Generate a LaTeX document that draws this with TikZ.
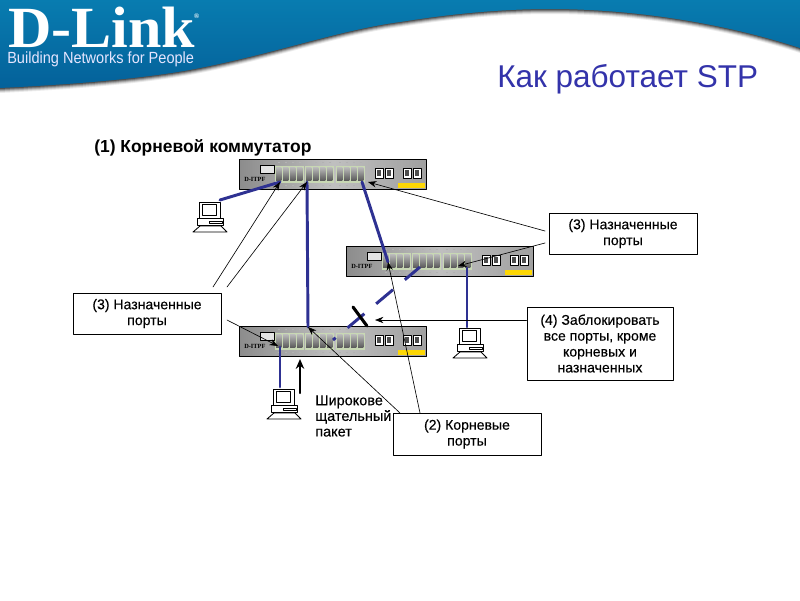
\documentclass[tikz,border=0pt]{standalone}
\usepackage{fontspec}
\setmainfont{Liberation Sans}
\newfontfamily\logofont{Liberation Serif}
\newfontfamily\labelfont[FakeBold=0.25]{Liberation Sans}
\usetikzlibrary{arrows.meta}
\definecolor{linkblue}{HTML}{2E3192}
\definecolor{titleblue}{HTML}{3333AA}
\definecolor{bandtop}{HTML}{087CB0}
\definecolor{bandlow}{HTML}{04619A}
\definecolor{portback}{HTML}{C8D8B4}
\tikzset{
  labelbox/.style={draw=black, line width=0.7pt, fill=white, align=center, font=\labelfont\fontsize{10}{11.3}\selectfont, inner sep=0pt},
  linkline/.style={draw=linkblue, line width=2.1pt},
  pointer/.style={draw=black, line width=0.45pt, -{Stealth[length=6pt,width=4.5pt]}},
  switchbody/.style={draw=black, line width=0.8pt, left color=gray!90, right color=gray!75, middle color=gray!50, minimum width=46.75mm, minimum height=7.5mm, inner sep=0pt, anchor=north west},
  switchbox/.pic={
    \node[switchbody] (body) at (0,0) {};
    % The serial port and the brand mark.
    \draw[fill=gray!20, line width=0.3pt] (21,6) rectangle (35,14);
    \node[font=\logofont\bfseries\fontsize{4.5}{5}\selectfont, text=black, inner sep=0pt, anchor=west] at (5,20) {D-ITPF};
    % Four ports in each of three groups.
    \foreach \gx in {36,66,97} {
      \fill[portback] (\gx,6.5) rectangle (\gx+28.5,23.5);
      \foreach \px in {0,7,14,21} {
        \fill[top color=gray!55, bottom color=black!65] (\gx+\px+1,8.5) rectangle (\gx+\px+6.4,21.5);
        \fill[gray!60] (\gx+\px+3,2.5) rectangle (\gx+\px+4.5,4);
        \fill[gray!60] (\gx+\px+3,25.5) rectangle (\gx+\px+4.5,27);
      }
    }
    % Uplink sockets and the yellow sticker.
    \foreach \px in {136,146,164,174} {
      \draw[fill=white, line width=0.5pt] (\px,9) rectangle (\px+8,19);
      \fill[black!70] (\px+2,11) rectangle (\px+6,17);
    }
    \fill[yellow!75!orange] (159,24) rectangle (186,29);
  },
  pcbox/.pic={
    \draw[line width=0.6pt, fill=white] (6,2) rectangle (27,18);
    \draw[line width=0.6pt] (9.5,4) rectangle (23.5,15);
    \draw[line width=0.6pt, fill=white] (4,18) rectangle (30,25);
    \draw[line width=0.6pt] (16,21) rectangle (29,23);
    \draw[line width=0.6pt, fill=white] (7,26) -- (28,26) -- (34,32) -- (0,32) -- cycle;
  }
}
\begin{document}
\begin{tikzpicture}[x=0.25mm, y=-0.25mm, line cap=round, line join=round]
  \useasboundingbox (0,0) rectangle (800,600);
  \fill[white] (0,0) rectangle (800,600);
  % The header band, with a soft shadow under its lower edge.
  \foreach \sh/\op in {5/0.08,4/0.12,3/0.18,2/0.25,1/0.35} {
    \fill[black, opacity=\op] (0,88+\sh) .. controls (80,84+\sh) and (150,78+\sh) .. (200,68+\sh)
      .. controls (280,52+\sh) and (340,30+\sh) .. (400,22+\sh)
      .. controls (450,14+\sh) and (500,9+\sh) .. (550,9+\sh)
      .. controls (640,9+\sh) and (730,25+\sh) .. (800,48+\sh) -- (800,0) -- (0,0) -- cycle;
  }
  \shade[top color=bandtop, bottom color=bandlow] (0,88) .. controls (80,84) and (150,78) .. (200,68)
    .. controls (280,52) and (340,30) .. (400,22)
    .. controls (450,14) and (500,9) .. (550,9)
    .. controls (640,9) and (730,25) .. (800,48) -- (800,0) -- (0,0) -- cycle;
  \node[anchor=base west, inner sep=0pt, text=white, text depth=0pt, xscale=1.03, font=\logofont\bfseries\fontsize{41.5}{41}\selectfont] (logo) at (8,47) {D-Link\kern-1pt\raisebox{20pt}{\fontsize{5}{5}\selectfont ®}};
  \node[anchor=base west, inner sep=0pt, text=white!90!blue, text height=8pt, text depth=0pt, xscale=0.9, font=\fontsize{11.5}{12}\selectfont] (slogan) at (7,63) {Building Networks for People};
  % Title and heading.
  \node[anchor=base west, inner sep=0pt, text=titleblue, font=\fontsize{22.4}{24}\selectfont] (title) at (497,87) {Как работает STP};
  \node[anchor=base west, inner sep=0pt, font=\bfseries\fontsize{12.4}{14}\selectfont] (rootlabel) at (94,152) {(1) Корневой коммутатор};
  % Switches and computers.
  \pic (rootsw) at (239,159) {switchbox};
  \pic (midsw) at (346,246) {switchbox};
  \pic (lowsw) at (239,326) {switchbox};
  \pic at (193,200) {pcbox};
  \pic at (453,326) {pcbox};
  \pic at (267,387) {pcbox};
  \coordinate (pca) at (220,200);
  \coordinate (pcb) at (467,327);
  \coordinate (pcc) at (280,387);
  % Port positions on the switches.
  \coordinate (rootpa) at (280,182);
  \coordinate (rootpb) at (307,182);
  \coordinate (rootpc) at (362,182);
  \coordinate (rootpd) at (368,182);
  \coordinate (midpa) at (388,262);
  \coordinate (midpb) at (458,266);
  \coordinate (midpc) at (420,267);
  \coordinate (midpd) at (467,268);
  \coordinate (lowpa) at (278,346);
  \coordinate (lowpb) at (308,327);
  \coordinate (lowpc) at (333,340);
  \coordinate (lowpd) at (280,347);
  % The links between them.
  \draw[linkline] (pca) -- (rootpa);
  \draw[linkline] (rootpb) -- (lowpb);
  \draw[linkline] (rootpc) -- (midpa);
  \draw[linkline] (midpd) -- (pcb);
  \draw[linkline] (lowpd) -- (pcc);
  \draw[linkline, line cap=butt, dash pattern=on 15.6pt off 11pt, dash phase=1.5pt] (midpc) -- (lowpc);
  % The block across the dashed link.
  \coordinate (blocka) at (353,307);
  \coordinate (blockb) at (367,326);
  \draw[black, line width=2.2pt] (blocka) -- (blockb);
  % Boxes with their texts.
  \node[labelbox, minimum width=37mm, minimum height=10.25mm] (leftbox) at (147,313.5) {(3) Назначенные\\порты};
  \node[labelbox, minimum width=37mm, minimum height=10.25mm] (rightbox) at (623,233.5) {(3) Назначенные\\порты};
  \node[labelbox, minimum width=36.5mm, minimum height=18.25mm] (blockbox) at (600,343.5) {(4) Заблокировать\\все порты, кроме\\корневых и\\назначенных};
  \node[labelbox, minimum width=37mm, minimum height=10.5mm] (rootbox) at (467,434) {(2) Корневые\\порты};
  \node[anchor=north west, align=left, inner sep=0pt, font=\labelfont\fontsize{10.3}{11.1}\selectfont] (packet) at (315,395) {Широкове\\щательный\\пакет};
  % Free ends of the pointers.
  \coordinate (lefta) at (213,287);
  \coordinate (leftb) at (227,287);
  \coordinate (leftc) at (227,320);
  \coordinate (righta) at (545,231);
  \coordinate (rightb) at (545,243);
  \coordinate (roota) at (420,413);
  \coordinate (rootb) at (400,413);
  \coordinate (blockarrow) at (375,320);
  \coordinate (packeta) at (300,393);
  \coordinate (packetb) at (300,359);
  % The pointers.
  \draw[pointer] (lefta) -- (rootpa);
  \draw[pointer] (leftb) -- (rootpb);
  \draw[pointer] (leftc) -- (lowpa);
  \draw[pointer] (righta) -- (rootpd);
  \draw[pointer] (rightb) -- (midpb);
  \draw[pointer] (roota) -- (midpa);
  \draw[pointer] (rootb) -- (lowpb);
  \draw[pointer] (blockbox.west |- blockarrow) -- (blockarrow);
  \draw[line width=1.5pt, -{Stealth[length=7pt,width=6pt]}] (packeta) -- (packetb);
\end{tikzpicture}
\end{document}
